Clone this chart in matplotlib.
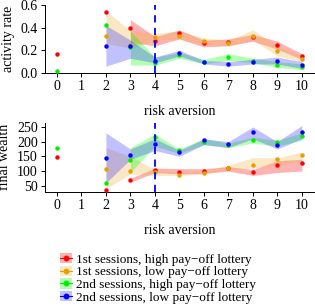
import matplotlib
matplotlib.use("Agg")
import matplotlib.pyplot as plt
from matplotlib.patches import Patch
from matplotlib.lines import Line2D
import numpy as np

plt.rcParams['font.family'] = ['Liberation Serif', 'DejaVu Serif']
plt.rcParams['mathtext.fontset'] = 'stix'

x_band2 = [2, 3, 4, 5, 6, 7, 8, 9, 10]
x_band3 = [3, 4, 5, 6, 7, 8, 9, 10]

labels = ["1st sessions, high pay\u2212off lottery",
          "1st sessions, low pay\u2212off lottery",
          "2nd sessions, high pay\u2212off lottery",
          "2nd sessions, low pay\u2212off lottery"]
colors = ["#ff0000", "#e8a000", "#00ee00", "#0000ff"]
fills = ["#ff0000", "#f0b040", "#00ff00", "#3333ff"]

# activity rate (points)
act_red_x = [0, 2, 3, 4, 5, 6, 7, 8, 9, 10]
act_red = [0.17, 0.54, 0.40, 0.28, 0.35, 0.26, 0.27, 0.32, 0.25, 0.15]
act_orange_x = [2, 3, 4, 5, 6, 7, 8, 9, 10]
act_orange = [0.33, 0.25, 0.32, 0.33, 0.28, 0.26, 0.33, 0.19, 0.12]
act_green_x = [0, 2, 3, 4, 5, 6, 7, 8, 9, 10]
act_green = [0.02, 0.42, 0.23, 0.09, 0.157, 0.095, 0.14, 0.106, 0.07, 0.053]
act_blue_x = [2, 3, 4, 5, 6, 7, 8, 9, 10]
act_blue = [0.24, 0.24, 0.11, 0.174, 0.095, 0.082, 0.095, 0.106, 0.068]

# activity rate (bands)
act_red_lo = [0.27, 0.24, 0.30, 0.23, 0.24, 0.28, 0.21, 0.12]
act_red_hi = [0.47, 0.32, 0.38, 0.29, 0.30, 0.34, 0.28, 0.17]
act_orange_lo = [0.26, 0.22, 0.29, 0.30, 0.25, 0.24, 0.29, 0.15, 0.10]
act_orange_hi = [0.55, 0.37, 0.35, 0.37, 0.31, 0.29, 0.38, 0.24, 0.15]
act_green_lo = [0.07, 0.07, 0.13, 0.08, 0.11, 0.09, 0.05, 0.03]
act_green_hi = [0.37, 0.14, 0.18, 0.12, 0.17, 0.13, 0.10, 0.08]
act_blue_lo = [0.06, 0.13, 0.09, 0.15, 0.08, 0.06, 0.08, 0.08, 0.04]
act_blue_hi = [0.42, 0.29, 0.14, 0.20, 0.11, 0.10, 0.12, 0.14, 0.10]

# final wealth (points)
fw_red = [147, 37, 69, 102, 98, 100, 110, 95, 122, 128]
fw_orange = [108, 100, 96, 88, 92, 110, 119, 140, 156]
fw_green = [178, 59, 137, 216, 170, 199, 187, 205, 199, 221]
fw_blue = [144, 154, 191, 164, 205, 192, 232, 187, 232]

# final wealth (bands)
fw_red_lo = [62, 95, 90, 92, 100, 85, 95, 100]
fw_red_hi = [75, 110, 108, 108, 115, 105, 135, 140]
fw_orange_lo = [40, 90, 85, 85, 90, 105, 110, 120, 135]
fw_orange_hi = [180, 150, 105, 95, 100, 120, 145, 145, 165]
fw_green_lo = [95, 185, 160, 190, 180, 195, 185, 205]
fw_green_hi = [180, 225, 175, 210, 195, 215, 205, 230]
fw_blue_lo = [60, 140, 170, 150, 190, 180, 210, 175, 210]
fw_blue_hi = [230, 175, 210, 170, 210, 200, 250, 200, 255]

fig = plt.figure(figsize=(3.15, 3.08), dpi=100)
ax1 = fig.add_axes([0.142, 0.763, 0.855, 0.221])
ax2 = fig.add_axes([0.142, 0.378, 0.855, 0.224])

top_series = [
    (act_red_x, act_red, x_band3, act_red_lo, act_red_hi),
    (act_orange_x, act_orange, x_band2, act_orange_lo, act_orange_hi),
    (act_green_x, act_green, x_band3, act_green_lo, act_green_hi),
    (act_blue_x, act_blue, x_band2, act_blue_lo, act_blue_hi),
]
bot_series = [
    (act_red_x, fw_red, x_band3, fw_red_lo, fw_red_hi),
    (act_orange_x, fw_orange, x_band2, fw_orange_lo, fw_orange_hi),
    (act_green_x, fw_green, x_band3, fw_green_lo, fw_green_hi),
    (act_blue_x, fw_blue, x_band2, fw_blue_lo, fw_blue_hi),
]

for ax, series in [(ax1, top_series), (ax2, bot_series)]:
    for i, (xs, ys, xb, lo, hi) in enumerate(series):
        ax.fill_between(xb, lo, hi, color=fills[i], alpha=0.3, lw=0)
    for i, (xs, ys, xb, lo, hi) in enumerate(series):
        ax.plot(xs, ys, 'o', color=colors[i], ms=3.2, mew=0, zorder=3)
    ax.axvline(4, color="#0000ff", ls=(0, (4, 3)), lw=1.3, zorder=4)
    ax.set_xlim(-0.5, 10.5)
    ax.set_xticks(range(0, 11))
    for s in ['top', 'right']:
        ax.spines[s].set_visible(False)
    ax.spines['left'].set_linewidth(0.7)
    ax.spines['bottom'].set_linewidth(0.7)
    ax.tick_params(labelsize=10, width=0.7, length=3, pad=2)
    ax.set_xlabel("risk aversion", fontsize=10, labelpad=9)

ax1.set_ylim(0, 0.6)
ax1.set_yticks([0.0, 0.2, 0.4, 0.6])
ax1.set_yticklabels(["0.0", "0.2", "0.4", "0.6"])
ax1.set_ylabel("activity rate", fontsize=10, labelpad=4)
ax2.set_ylim(30, 265)
ax2.set_yticks([50, 100, 150, 200, 250])
ax2.set_ylabel("final wealth", fontsize=10, labelpad=4)

handles = [(Patch(facecolor=fills[i], alpha=0.3, lw=0),
            Line2D([], [], color=colors[i], marker='o', ms=3.2, lw=0.8))
           for i in range(4)]
fig.legend(handles, labels, loc='upper left', bbox_to_anchor=(0.19, 0.178),
           frameon=False, fontsize=9.5, handlelength=0.9, handleheight=0.8,
           handletextpad=0.3, labelspacing=0.0, borderaxespad=0, borderpad=0)
fig.savefig("out.png", dpi=100)
